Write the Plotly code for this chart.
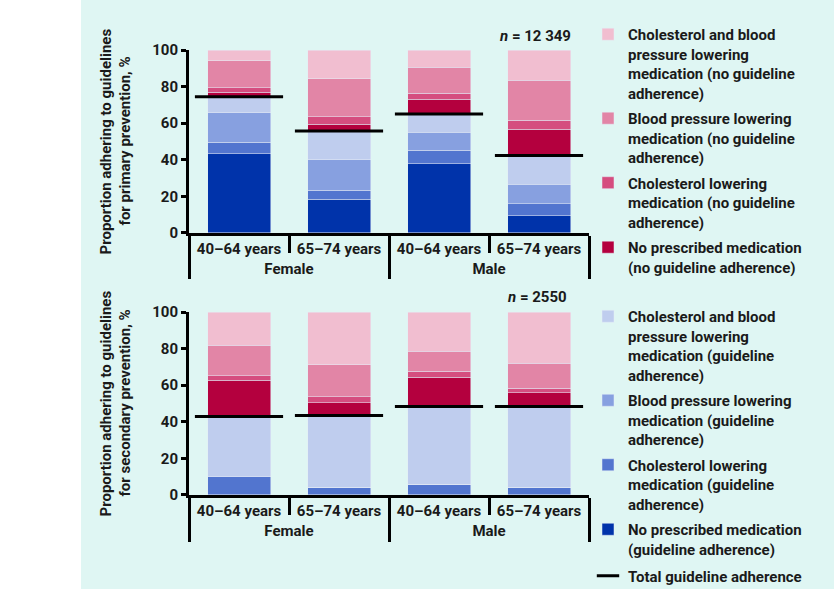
import numpy as np
import plotly.graph_objects as go
from plotly.subplots import make_subplots

sex = ["Female", "Female", "Male", "Male"]
age = ["40–64 years", "65–74 years", "40–64 years", "65–74 years"]

# primary prevention, size of each segment in %, bottom to top
prim_nomed_adh = [43.3, 18.5, 37.8, 9.5]
prim_chol_adh = [6.2, 4.8, 7.3, 6.5]
prim_bp_adh = [16.3, 16.7, 10.0, 10.7]
prim_both_adh = [8.7, 15.8, 9.9, 15.7]
prim_nomed_no = [2.5, 3.5, 8.1, 14.3]
prim_chol_no = [2.5, 4.3, 3.4, 4.9]
prim_bp_no = [14.5, 20.8, 14.0, 22.0]
prim_both_no = [6.0, 15.6, 9.5, 16.4]

# secondary prevention
sec_nomed_adh = [0, 0, 0, 0]
sec_chol_adh = [10.0, 4.2, 5.8, 4.2]
sec_bp_adh = [0, 0, 0, 0]
sec_both_adh = [32.9, 39.2, 42.6, 44.2]
sec_nomed_no = [19.7, 7.1, 16.0, 7.6]
sec_chol_no = [2.5, 3.1, 3.1, 2.4]
sec_bp_no = [16.7, 17.6, 11.0, 13.7]
sec_both_no = [18.2, 28.8, 21.5, 27.9]

names = [
    "No prescribed medication<br>(guideline adherence)",
    "Cholesterol lowering<br>medication (guideline<br>adherence)",
    "Blood pressure lowering<br>medication (guideline<br>adherence)",
    "Cholesterol and blood<br>pressure lowering<br>medication (guideline<br>adherence)",
    "No prescribed medication<br>(no guideline adherence)",
    "Cholesterol lowering<br>medication (no guideline<br>adherence)",
    "Blood pressure lowering<br>medication (no guideline<br>adherence)",
    "Cholesterol and blood<br>pressure lowering<br>medication (no guideline<br>adherence)",
]
colors = ["#0033aa", "#5275cf", "#87a0e0", "#bfcdee",
          "#b4003e", "#d54d7f", "#e285a6", "#f1bed0"]
legends = ["legend2"] * 4 + ["legend"] * 4
ranks = [4, 3, 2, 1, 4, 3, 2, 1]

panels = [
    [prim_nomed_adh, prim_chol_adh, prim_bp_adh, prim_both_adh,
     prim_nomed_no, prim_chol_no, prim_bp_no, prim_both_no],
    [sec_nomed_adh, sec_chol_adh, sec_bp_adh, sec_both_adh,
     sec_nomed_no, sec_chol_no, sec_bp_no, sec_both_no],
]

fig = make_subplots(rows=2, cols=1)
x = [sex, age]

for row, series in enumerate(panels, start=1):
    for i, vals in enumerate(series):
        fig.add_trace(go.Bar(x=x, y=vals, name=names[i], marker_color=colors[i],
                             legend=legends[i], legendrank=ranks[i], legendgroup=f"s{i}",
                             showlegend=(row == 1)), row=row, col=1)
    total = np.sum(series[:4], axis=0)
    fig.add_trace(go.Scatter(x=x, y=total, mode="markers", name="Total guideline adherence",
                             marker=dict(symbol="line-ew-open", size=63, color="black",
                                         line=dict(width=3, color="black")),
                             legend="legend3", legendgroup="total",
                             showlegend=(row == 1)), row=row, col=1)

leg = dict(x=0.9975, xanchor="left", valign="top", traceorder="grouped",
           tracegroupgap=3, bgcolor="rgba(0,0,0,0)", font=dict(size=15))

fig.update_layout(
    width=834, height=589,
    barmode="stack", bargap=0.37,
    margin=dict(l=189, r=245, t=50, b=94, autoexpand=False),
    paper_bgcolor="#dff6f3", plot_bgcolor="rgba(0,0,0,0)",
    font=dict(family="Roboto", size=14, color="#1a1a1a", weight="bold"),
    legend=dict(leg, y=1.072, yanchor="top"),
    legend2=dict(leg, y=0.4382, yanchor="top"),
    legend3=dict(leg, y=-0.182, yanchor="middle"),
    yaxis=dict(domain=[0.5888, 1]),
    yaxis2=dict(domain=[0, 0.4112]),
    shapes=[dict(type="rect", xref="paper", yref="paper", x0=-0.5, x1=-0.27,
                 y0=-0.3, y1=1.2, fillcolor="white", line_width=0, layer="below")],
)

fig.update_xaxes(type="multicategory", showline=True, linewidth=3, linecolor="black",
                 ticks="outside", tickson="boundaries", ticklen=17, tickwidth=3,
                 tickcolor="black", dividercolor="black", dividerwidth=3,
                 ticklabelstandoff=0, tickfont=dict(size=15), showgrid=False,
                 range=[-0.5, 3.5], automargin=False)
fig.update_yaxes(range=[0, 100], dtick=20, showline=True, linewidth=3, linecolor="black",
                 ticks="outside", ticklen=5, tickwidth=3, tickcolor="black",
                 tickfont=dict(size=15), showgrid=False, zeroline=False, automargin=False)

# y titles: one annotation per line
titles = [("Proportion adhering to guidelines", "for primary prevention, %", 0.7944),
          ("Proportion adhering to guidelines", "for secondary prevention, %", 0.2056)]
for line1, line2, yc in titles:
    fig.add_annotation(text=line1, xref="paper", yref="paper", x=-0.2075, y=yc,
                       xanchor="center", yanchor="middle",
                       textangle=-90, showarrow=False, font=dict(size=15))
    fig.add_annotation(text=line2, xref="paper", yref="paper", x=-0.16, y=yc,
                       xanchor="center", yanchor="middle",
                       textangle=-90, showarrow=False, font=dict(size=15))

fig.add_annotation(text="<i>n</i> = 12 349", xref="paper", yref="paper", x=0.96, y=1.031,
                   xanchor="right", yanchor="middle", showarrow=False, font=dict(size=15))
fig.add_annotation(text="<i>n</i> = 2550", xref="paper", yref="paper", x=0.87, y=0.445,
                   xanchor="center", yanchor="middle", showarrow=False, font=dict(size=15))

fig.write_html("out.html", config={"displayModeBar": False},
               post_script="document.body.style.margin='0';")
